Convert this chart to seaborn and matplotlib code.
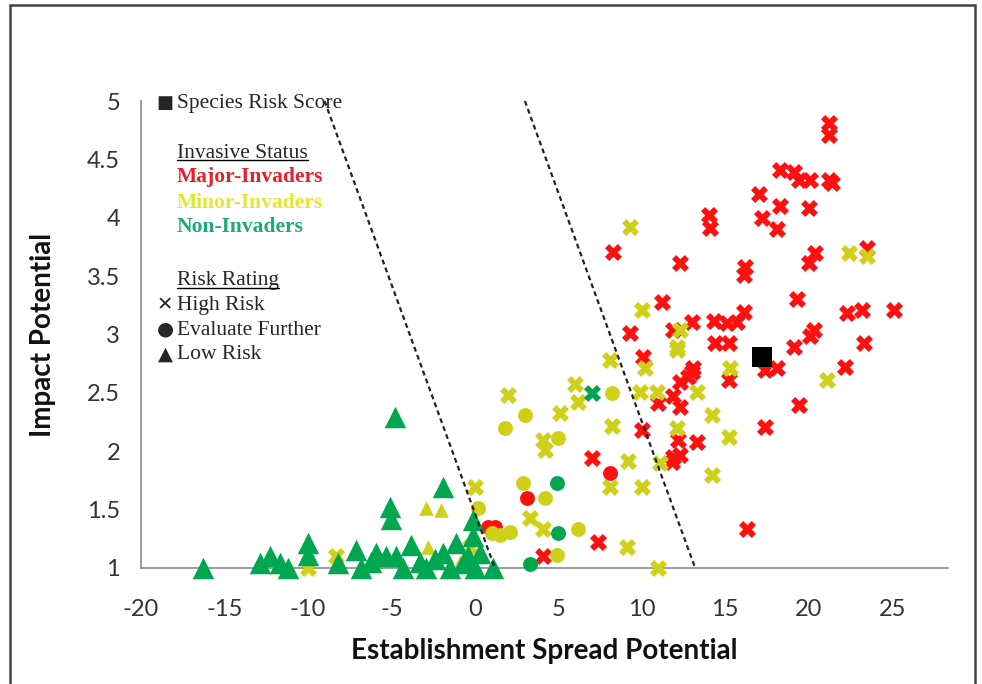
import matplotlib
matplotlib.use("Agg")
import matplotlib.pyplot as plt
import seaborn as sns
import pandas as pd
from matplotlib.lines import Line2D
from matplotlib.patches import Rectangle

# Major-Invaders / High Risk
major_high_x = [21.2, 21.2, 18.3, 19.1, 19.4, 20.1, 21.2, 21.4, 17.0, 18.3, 20.0, 17.2, 18.1,
                14.0, 14.1, 8.3, 12.3, 16.2, 16.1, 20.4, 20.0, 23.5, 11.2, 19.3,
                9.3, 11.9, 13.0, 14.3, 15.1, 15.7, 16.1, 14.4, 15.2,
                20.3, 20.1, 19.1, 22.3, 23.2, 25.1, 23.3,
                17.4, 18.1, 22.2, 19.4, 17.4, 16.3, 15.2,
                10.1, 11.0, 11.9, 12.3, 12.8, 13.1, 12.3, 13.0,
                10.0, 7.0, 11.9, 12.2, 13.3, 12.3, 11.8, 7.4, 4.1]
major_high_y = [4.81, 4.71, 4.41, 4.39, 4.32, 4.32, 4.32, 4.30, 4.20, 4.10, 4.08, 4.00, 3.90,
                4.02, 3.91, 3.71, 3.61, 3.58, 3.51, 3.70, 3.61, 3.74, 3.28, 3.30,
                3.01, 3.04, 3.11, 3.12, 3.10, 3.11, 3.19, 2.93, 2.93,
                3.04, 2.99, 2.89, 3.18, 3.21, 3.21, 2.93,
                2.70, 2.71, 2.72, 2.40, 2.21, 1.33, 2.61,
                2.81, 2.41, 2.47, 2.38, 2.64, 2.71, 2.59, 2.68,
                2.18, 1.94, 1.95, 2.10, 2.08, 1.97, 1.91, 1.22, 1.10]

# Major-Invaders / Evaluate Further
major_eval_x = [8.1, 3.1, 0.8, 1.2]
major_eval_y = [1.81, 1.60, 1.35, 1.35]

# Minor-Invaders / High Risk
minor_high_x = [2.0, 6.0, 6.2, 5.1, 4.1, 4.2, 8.2, 8.1, 10.2, 12.1, 9.9, 10.9, 13.3, 14.2,
                15.2, 9.2, 8.1, 10.0, 11.1, 14.2, 0.0, 3.3, 4.1, 9.1, 11.0,
                9.3, 22.4, 23.5, 10.0, 12.3, 12.1, 15.3, 21.1, 12.1,
                -10.0, -8.3, -0.3]
minor_high_y = [2.48, 2.58, 2.42, 2.33, 2.10, 2.01, 2.22, 2.78, 2.71, 2.87, 2.51, 2.51, 2.51, 2.31,
                2.12, 1.92, 1.69, 1.69, 1.90, 1.80, 1.69, 1.43, 1.33, 1.18, 1.00,
                3.92, 3.70, 3.67, 3.21, 3.04, 2.89, 2.71, 2.61, 2.20,
                1.00, 1.10, 1.18]

# Minor-Invaders / Evaluate Further
minor_eval_x = [3.0, 1.8, 8.2, 5.0, 2.9, 4.2, 0.2, 6.2, 4.9, 1.0, 1.5, 2.1]
minor_eval_y = [2.31, 2.20, 2.50, 2.11, 1.73, 1.60, 1.51, 1.33, 1.11, 1.30, 1.28, 1.31]

# Minor-Invaders / Low Risk
minor_low_x = [-2.9, -2.0, -2.8, -0.9]
minor_low_y = [1.51, 1.50, 1.18, 1.05]

# Non-Invaders
non_high_x = [7.0]
non_high_y = [2.50]
non_eval_x = [4.9, 5.0, 3.3]
non_eval_y = [1.73, 1.30, 1.03]
non_low_x = [-16.3, -12.9, -12.3, -11.7, -11.2, -10.0, -10.0, -8.2, -7.1, -6.8, -5.9, -5.3,
             -5.1, -5.0, -4.8, -4.7, -4.3, -3.8, -3.3, -2.9, -1.9, -1.9, -1.5, -1.1, -0.7,
             -0.4, -0.1, -0.1, 0.0, 0.3, 1.1, -6.2, -2.4]
non_low_y = [1.00, 1.04, 1.10, 1.04, 1.00, 1.21, 1.11, 1.04, 1.15, 1.00, 1.13, 1.10,
             1.52, 1.42, 2.29, 1.10, 1.00, 1.20, 1.05, 1.00, 1.69, 1.13, 1.00, 1.21, 1.04,
             1.10, 1.41, 1.27, 1.00, 1.13, 1.00, 1.05, 1.08]

# the species being scored
species_x = [17.2]
species_y = [2.81]

# threshold lines (x at y=5, x at y=1)
line_a = ([-9.0, 1.2], [5, 1])
line_b = ([3.0, 13.2], [5, 1])

rows = []
def add(xs, ys, status, rating):
    for a, b in zip(xs, ys):
        rows.append({"x": a, "y": b, "status": status, "rating": rating})

add(major_high_x, major_high_y, "Major", "High")
add(major_eval_x, major_eval_y, "Major", "Eval")
add(minor_high_x, minor_high_y, "Minor", "High")
add(minor_eval_x, minor_eval_y, "Minor", "Eval")
add(minor_low_x, minor_low_y, "Minor", "Low")
add(non_high_x, non_high_y, "Non", "High")
add(non_eval_x, non_eval_y, "Non", "Eval")
add(non_low_x, non_low_y, "Non", "Low")
df = pd.DataFrame(rows)

colors = {"Major": "#ff1010", "Minor": "#d0d018", "Non": "#00a650"}
markers = {"High": "X", "Eval": "o", "Low": "^"}
sizes = {"High": 150, "Eval": 115, "Low": 240}

sns.set_style("white")
plt.rcParams["axes.unicode_minus"] = False
fig = plt.figure(figsize=(9.82, 6.84), dpi=100)
ax = fig.add_axes([0.1436, 0.1696, 0.8218, 0.6827])

for status in ["Major", "Minor", "Non"]:
    for rating in ["High", "Eval", "Low"]:
        sub = df[(df.status == status) & (df.rating == rating)]
        if sub.empty:
            continue
        s = sizes[rating]
        if status == "Minor" and rating == "Low":
            s = 110
        sns.scatterplot(data=sub, x="x", y="y", color=colors[status], marker=markers[rating],
                        s=s, linewidth=0, clip_on=False, ax=ax, zorder=3)

sns.scatterplot(x=species_x, y=species_y, marker="s", color="black", s=210, linewidth=0,
                ax=ax, zorder=5)

for xs, ys in [line_a, line_b]:
    ax.plot(xs, ys, color="#222222", linestyle=(0, (2.2, 1.6)), linewidth=1.6, zorder=4)

ax.set_xlim(-20, 28.35)
ax.set_ylim(1, 5)
ax.set_xticks(range(-20, 30, 5))
ax.set_yticks([1, 1.5, 2, 2.5, 3, 3.5, 4, 4.5, 5])
ax.set_yticklabels(["1", "1.5", "2", "2.5", "3", "3.5", "4", "4.5", "5"])

for side in ["top", "right"]:
    ax.spines[side].set_visible(False)
for side in ["left", "bottom"]:
    ax.spines[side].set_color("#8a8a8a")
    ax.spines[side].set_linewidth(1.2)
ax.tick_params(axis="both", direction="out", length=7, width=1.2, color="#8a8a8a",
               labelsize=17, labelcolor="#333333")
ax.tick_params(axis="x", pad=15)
ax.tick_params(axis="y", pad=8)
for lab in ax.get_xticklabels() + ax.get_yticklabels():
    lab.set_family("Lato")

ax.set_xlabel("Establishment Spread Potential", family="Lato", fontweight="bold",
              fontsize=20, color="#111111", labelpad=13)
ax.set_ylabel("Impact Potential", family="Lato", fontweight="bold",
              fontsize=20, color="#111111", labelpad=22)

# key in the upper left, Excel-style text boxes
serif = ["Liberation Serif", "DejaVu Serif"]
sym = ["DejaVu Sans"]
tx = -17.85
sx = -18.55
fs = 15.5
ax.text(sx, 4.943, "\u25A0", family=sym, fontsize=13, ha="center", va="baseline")
ax.text(tx, 4.943, "Species Risk Score", family=serif, fontsize=fs, va="baseline")
t_inv = ax.text(tx, 4.514, "Invasive Status", family=serif, fontsize=fs, va="baseline")
ax.text(tx, 4.309, "Major-Invaders", family=serif, fontsize=fs, va="baseline",
        fontweight="bold", color="#e8202a")
ax.text(tx, 4.083, "Minor-Invaders", family=serif, fontsize=fs, va="baseline",
        fontweight="bold", color="#e6e632")
ax.text(tx, 3.881, "Non-Invaders", family=serif, fontsize=fs, va="baseline",
        fontweight="bold", color="#1fa87a")
t_risk = ax.text(tx, 3.424, "Risk Rating", family=serif, fontsize=fs, va="baseline")
ax.text(sx, 3.210, "\u2715", family=sym, fontsize=14, ha="center", va="baseline")
ax.text(tx, 3.210, "High Risk", family=serif, fontsize=fs, va="baseline")
ax.text(sx, 2.996, "\u25CF", family=sym, fontsize=14, ha="center", va="baseline")
ax.text(tx, 2.996, "Evaluate Further", family=serif, fontsize=fs, va="baseline")
ax.text(sx, 2.788, "\u25B2", family=sym, fontsize=14, ha="center", va="baseline")
ax.text(tx, 2.788, "Low Risk", family=serif, fontsize=fs, va="baseline")

fig.canvas.draw()
inv = fig.transFigure.inverted()
for t in [t_inv, t_risk]:
    bb = t.get_window_extent()
    base = ax.transData.transform((0, t.get_position()[1]))[1]
    (x0, y0) = inv.transform((bb.x0, base - 2.5))
    (x1, _) = inv.transform((bb.x1, base - 2.5))
    fig.add_artist(Line2D([x0, x1], [y0, y0], color="black", linewidth=1.0))

# outer frame of the picture
fig.add_artist(Rectangle((10 / 982, -0.02), 965 / 982, 0.02 + 679 / 684,
                         transform=fig.transFigure, fill=False, edgecolor="#444444",
                         linewidth=1.8))

fig.savefig("out.png", dpi=100)
